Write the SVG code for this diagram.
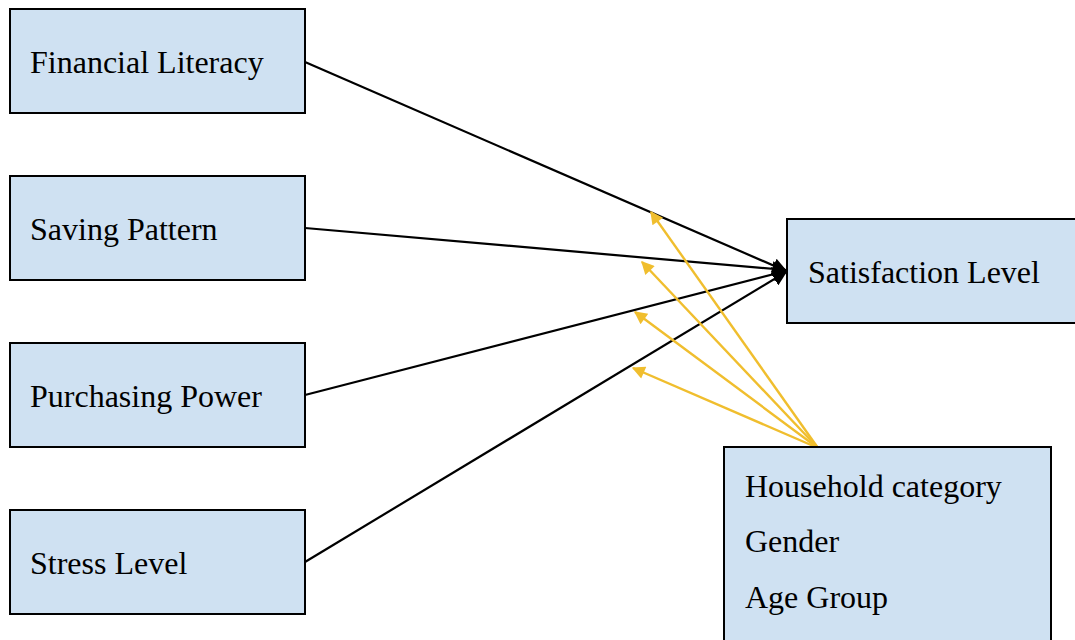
<svg xmlns="http://www.w3.org/2000/svg" width="1075" height="640" viewBox="0 0 1075 640">
<defs>
<style>
.box{fill:#CFE1F2;stroke:#000;stroke-width:2}
.t{font-family:"Liberation Serif","Times New Roman",serif;font-size:32px;fill:#000}
.blk{stroke:#000;stroke-width:2.2;fill:none}
.yel{stroke:#F0BE2E;stroke-width:2.4;fill:none}
</style>
<marker id="ab" viewBox="0 0 10 10" refX="9" refY="5" markerWidth="15" markerHeight="15" markerUnits="userSpaceOnUse" orient="auto">
<path d="M0,0 L10,5 L0,10 z" fill="#000"/>
</marker>
<marker id="ay" viewBox="0 0 10 10" refX="9" refY="5" markerWidth="16" markerHeight="13" markerUnits="userSpaceOnUse" orient="auto">
<path d="M0,0 L10,5 L0,10 z" fill="#F0BE2E"/>
</marker>
</defs>
<rect width="1075" height="640" fill="#fff"/>
<g id="connectors">
<line class="blk" x1="305" y1="62" x2="786" y2="271" marker-end="url(#ab)"/>
<line class="blk" x1="305" y1="228" x2="786" y2="270" marker-end="url(#ab)"/>
<line class="blk" x1="305" y1="395" x2="786" y2="271" marker-end="url(#ab)"/>
<line class="blk" x1="305" y1="562" x2="786" y2="272" marker-end="url(#ab)"/>
<line class="yel" x1="818" y1="448" x2="651" y2="212" marker-end="url(#ay)"/>
<line class="yel" x1="818" y1="448" x2="642" y2="262" marker-end="url(#ay)"/>
<line class="yel" x1="818" y1="448" x2="635" y2="312" marker-end="url(#ay)"/>
<line class="yel" x1="818" y1="448" x2="633" y2="368" marker-end="url(#ay)"/>
</g>
<g id="n1"><rect class="box" x="10" y="9" width="295" height="104"/><text class="t" x="30" y="73">Financial Literacy</text></g>
<g id="n2"><rect class="box" x="10" y="176" width="295" height="104"/><text class="t" x="30" y="240">Saving Pattern</text></g>
<g id="n3"><rect class="box" x="10" y="343" width="295" height="104"/><text class="t" x="30" y="407">Purchasing Power</text></g>
<g id="n4"><rect class="box" x="10" y="510" width="295" height="104"/><text class="t" x="30" y="574">Stress Level</text></g>
<g id="n5"><rect class="box" x="787" y="219" width="295" height="104"/><text class="t" x="808" y="283">Satisfaction Level</text></g>
<g id="n6"><rect class="box" x="724" y="447" width="327" height="210"/>
<text class="t" x="745" y="497">Household category</text>
<text class="t" x="745" y="552">Gender</text>
<text class="t" x="745" y="608">Age Group</text></g>
</svg>
